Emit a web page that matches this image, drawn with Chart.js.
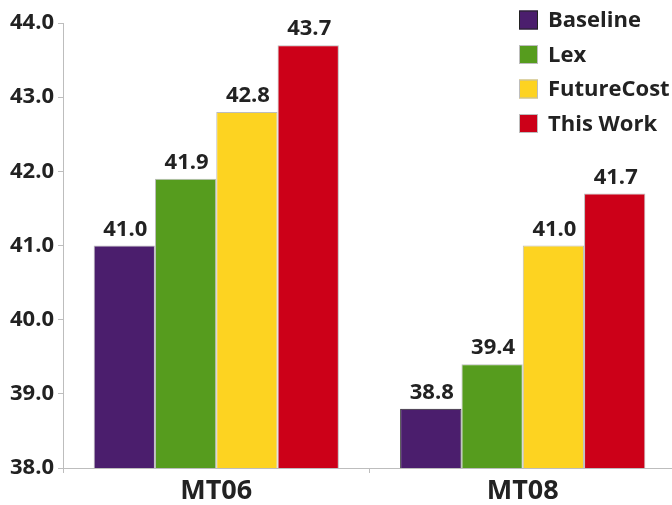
<!DOCTYPE html>
<html>
<head>
<meta charset="utf-8">
<script src="https://cdn.jsdelivr.net/npm/chart.js@4"></script>
<style>
  html, body { margin: 0; padding: 0; background: #fff; overflow: hidden; }
  #wrap { width: 676px; height: 505px; }
</style>
</head>
<body>
<div id="wrap"><canvas id="c"></canvas></div>
<script>
// Test sets and systems
const categories = ['MT06', 'MT08'];
const seriesNames = ['Baseline', 'Lex', 'FutureCost', 'This Work'];
const baseline = [41.0, 38.8];
const lex = [41.9, 39.4];
const futureCost = [42.8, 41.0];
const thisWork = [43.7, 41.7];
const yTicks = [38.0, 39.0, 40.0, 41.0, 42.0, 43.0, 44.0];

const FONT = '"Open Sans", "Noto Sans", sans-serif';
const INK = '#222222';
const fills = ['#4b1e6d', '#569c1e', '#fdd321', '#cc0018'];
const edges = ['#222222', '#bdbdbd', '#bdbdbd', '#bdbdbd'];

const values = [baseline, lex, futureCost, thisWork];
const datasets = seriesNames.map((name, i) => ({
  label: name,
  data: values[i],
  backgroundColor: fills[i],
  borderColor: i === 0 ? ['#bdbdbd', '#222222'] : edges[i],
  borderWidth: 1,
  barPercentage: 1.0,
  categoryPercentage: 0.8
}));

// Value labels above each bar
const valueLabels = {
  id: 'valueLabels',
  afterDatasetsDraw(chart) {
    const ctx = chart.ctx;
    ctx.save();
    ctx.font = 'bold 22px ' + FONT;
    ctx.fillStyle = INK;
    ctx.textAlign = 'center';
    ctx.textBaseline = 'alphabetic';
    chart.data.datasets.forEach((ds, di) => {
      chart.getDatasetMeta(di).data.forEach((bar, idx) => {
        ctx.fillText(ds.data[idx].toFixed(1), bar.x + 1, bar.y - 10);
      });
    });
    ctx.restore();
  }
};

// Legend drawn inside the plot, top right
const insideLegend = {
  id: 'insideLegend',
  afterDraw(chart) {
    const ctx = chart.ctx;
    ctx.save();
    ctx.font = 'bold 22px ' + FONT;
    ctx.textAlign = 'left';
    ctx.textBaseline = 'middle';
    const x0 = 519, y0 = 20, step = 34.5, box = 19;
    chart.data.datasets.forEach((ds, i) => {
      const cy = y0 + i * step;
      ctx.fillStyle = fills[i];
      ctx.fillRect(x0, cy - box / 2, box, box);
      ctx.strokeStyle = edges[i];
      ctx.lineWidth = 1;
      ctx.strokeRect(x0 + 0.5, cy - box / 2 + 0.5, box - 1, box - 1);
      ctx.fillStyle = INK;
      ctx.fillText(ds.label, x0 + 29, cy + 1);
    });
    ctx.restore();
  }
};

new Chart(document.getElementById('c'), {
  type: 'bar',
  data: { labels: categories, datasets },
  plugins: [valueLabels, insideLegend],
  options: {
    responsive: true,
    maintainAspectRatio: false,
    animation: false,
    layout: { padding: { top: 23, right: 0, left: 0, bottom: 0 } },
    plugins: { legend: { display: false }, tooltip: { enabled: false } },
    scales: {
      x: {
        grid: { display: true, drawOnChartArea: false, drawTicks: true, tickLength: 5, color: '#bdbdbd' },
        border: { display: true, color: '#bdbdbd', width: 1 },
        ticks: { color: INK, font: { family: FONT, size: 27, weight: 'bold' }, padding: 2 },
        afterFit(scale) { scale.height = 37; }
      },
      y: {
        min: 38,
        max: 44,
        afterBuildTicks(scale) { scale.ticks = yTicks.map(v => ({ value: v })); },
        grid: { display: true, drawOnChartArea: false, drawTicks: true, tickLength: 5, color: '#bdbdbd' },
        border: { display: true, color: '#bdbdbd', width: 1 },
        ticks: {
          color: INK,
          font: { family: FONT, size: 22, weight: 'bold' },
          padding: 4,
          callback: v => Number(v).toFixed(1)
        },
        afterFit(scale) { scale.width = 63; }
      }
    }
  }
});
</script>
</body>
</html>
